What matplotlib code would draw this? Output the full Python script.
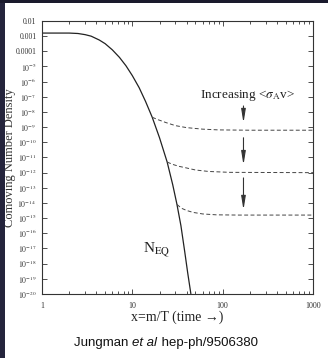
import matplotlib
matplotlib.use("Agg")
import matplotlib.pyplot as plt
from matplotlib.patches import Rectangle
from matplotlib.ticker import FixedLocator, NullFormatter, LogLocator

plt.rcParams['mathtext.fontset'] = 'stix'
SERIF = ['Liberation Serif', 'DejaVu Serif']

# ---- data ----
eq_x = [1.0, 1.5, 2.0, 2.5, 3.0, 3.5, 4.3, 5.0, 6.0, 7.2, 8.5, 10, 11.9, 14,
        16.6, 20, 24.3, 28, 31.2, 34.5, 38, 41, 44.5]
eq_y = [1.6e-3, 1.6e-3, 1.6e-3, 1.5e-3, 1.26e-3, 1.0e-3, 5.6e-4, 3.2e-4, 1.26e-4,
        4.0e-5, 1.12e-5, 2.5e-6, 4.0e-7, 5.0e-8, 4.5e-9, 2.0e-10, 5.0e-12,
        1.6e-13, 8.0e-15, 3.2e-16, 6.3e-18, 2.5e-19, 1.0e-20]

d1_x = [16.6, 19, 23.6, 30, 40, 60, 90, 200, 1000]
d1_y = [4.5e-9, 3.2e-9, 2.0e-9, 1.26e-9, 9.3e-10, 7.4e-10, 6.6e-10, 6.3e-10, 6.3e-10]

d2_x = [24.3, 28, 33, 39, 50, 70, 120, 1000]
d2_y = [5.0e-12, 3.5e-12, 2.6e-12, 2.1e-12, 1.5e-12, 1.2e-12, 1.05e-12, 1.0e-12]

d3_x = [31.2, 35, 40, 47, 60, 85, 150, 1000]
d3_y = [8.0e-15, 4.5e-15, 3.2e-15, 2.4e-15, 1.9e-15, 1.66e-15, 1.6e-15, 1.6e-15]

arrow_x = 170
arrow_start = [2.5e-8, 2.0e-10, 4.5e-13]
arrow_end = [1.9e-9, 3.2e-12, 3.5e-15]

y_ticks = [10.0 ** (-k) for k in range(2, 21)]
y_labels = ['0.01', '0.001', '0.0001'] + [r'$10^{-%d}$' % k for k in range(5, 21)]
x_ticks = [1, 10, 100, 1000]
x_labels = ['1', '10', '100', '1000']

W, H = 328, 358
fig = plt.figure(figsize=(W / 100, H / 100), dpi=100, facecolor='white')

# slide background strips
fig.patches.append(Rectangle((0, 0), 5 / W, 1, transform=fig.transFigure,
                             facecolor='#24243c', edgecolor='none', zorder=0))
fig.patches.append(Rectangle((0, 1 - 3 / H), 1, 3 / H, transform=fig.transFigure,
                             facecolor='#1a1a2c', edgecolor='none', zorder=0))

ax = fig.add_axes([42 / W, 1 - 294 / H, (313 - 42) / W, (294 - 21) / H])
ax.set_xscale('log')
ax.set_yscale('log')
ax.set_xlim(1, 1000)
ax.set_ylim(1e-20, 1e-2)

ax.plot(eq_x, eq_y, color='#222222', lw=0.9, solid_capstyle='butt')
for dx, dy in [(d1_x, d1_y), (d2_x, d2_y), (d3_x, d3_y)]:
    ax.plot(dx, dy, color='#444444', lw=0.7, dashes=(4, 2.5))

for ys, ye in zip(arrow_start, arrow_end):
    ax.annotate('', xy=(arrow_x, ye), xytext=(arrow_x, ys),
                arrowprops=dict(arrowstyle='-|>,head_length=0.8,head_width=0.13',
                                color='#333333', lw=0.8, shrinkA=0, shrinkB=0))

ax.text(190, 1.3e-7, r'Increasing <$\sigma_{\rm A}$v>', ha='center', va='center',
        fontsize=9.5, family=SERIF, color='#222222')
ax.text(18.4, 7e-18, r'N$_{\rm EQ}$', ha='center', va='center',
        fontsize=11, family=SERIF, color='#222222')

ax.yaxis.set_major_locator(FixedLocator(y_ticks))
ax.set_yticklabels(y_labels)
ax.yaxis.set_minor_locator(FixedLocator([]))
ax.xaxis.set_major_locator(FixedLocator(x_ticks))
ax.set_xticklabels(x_labels)
ax.xaxis.set_minor_locator(LogLocator(base=10, subs=range(2, 10)))
ax.xaxis.set_minor_formatter(NullFormatter())

ax.tick_params(which='both', direction='in', top=True, right=True,
               width=0.6, color='#333333')
ax.tick_params(which='major', length=3.5)
ax.tick_params(which='minor', length=2)
ax.tick_params(axis='y', labelsize=5.6, pad=4, labelcolor='#333333')
ax.tick_params(axis='x', labelsize=5.8, pad=6, labelcolor='#333333')
for lab in ax.get_xticklabels() + ax.get_yticklabels():
    lab.set_family(SERIF)
for s in ax.spines.values():
    s.set_linewidth(0.8)
    s.set_color('#333333')

ax.set_xlabel('x=m/T (time →)', family=SERIF, fontsize=10, color='#222222')
ax.xaxis.set_label_coords(0.5, -(317 - 294) / (294 - 21))
ax.xaxis.label.set_va('center')
ax.set_ylabel('Comoving Number Density', family=SERIF, fontsize=9, color='#333333')
ax.yaxis.set_label_coords(-(42 - 10.5) / (313 - 42), 0.5)
ax.yaxis.label.set_va('center')

# caption with italic "et al"
fig.canvas.draw()
r = fig.canvas.get_renderer()
parts = [('Jungman ', 'normal'), ('et al', 'italic'), (' hep-ph/9506380', 'normal')]
texts = []
for s, st in parts:
    t = fig.text(0, 1 - 343 / H, s, fontsize=9.5, family=['Liberation Sans', 'DejaVu Sans'],
                 style=st, va='center', ha='left', color='#111111')
    texts.append(t)
widths = [t.get_window_extent(r).width for t in texts]
total = sum(widths)
x0 = 166 - total / 2
for t, w in zip(texts, widths):
    t.set_x(x0 / W)
    x0 += w

fig.savefig('out.png', dpi=100, facecolor='white')
